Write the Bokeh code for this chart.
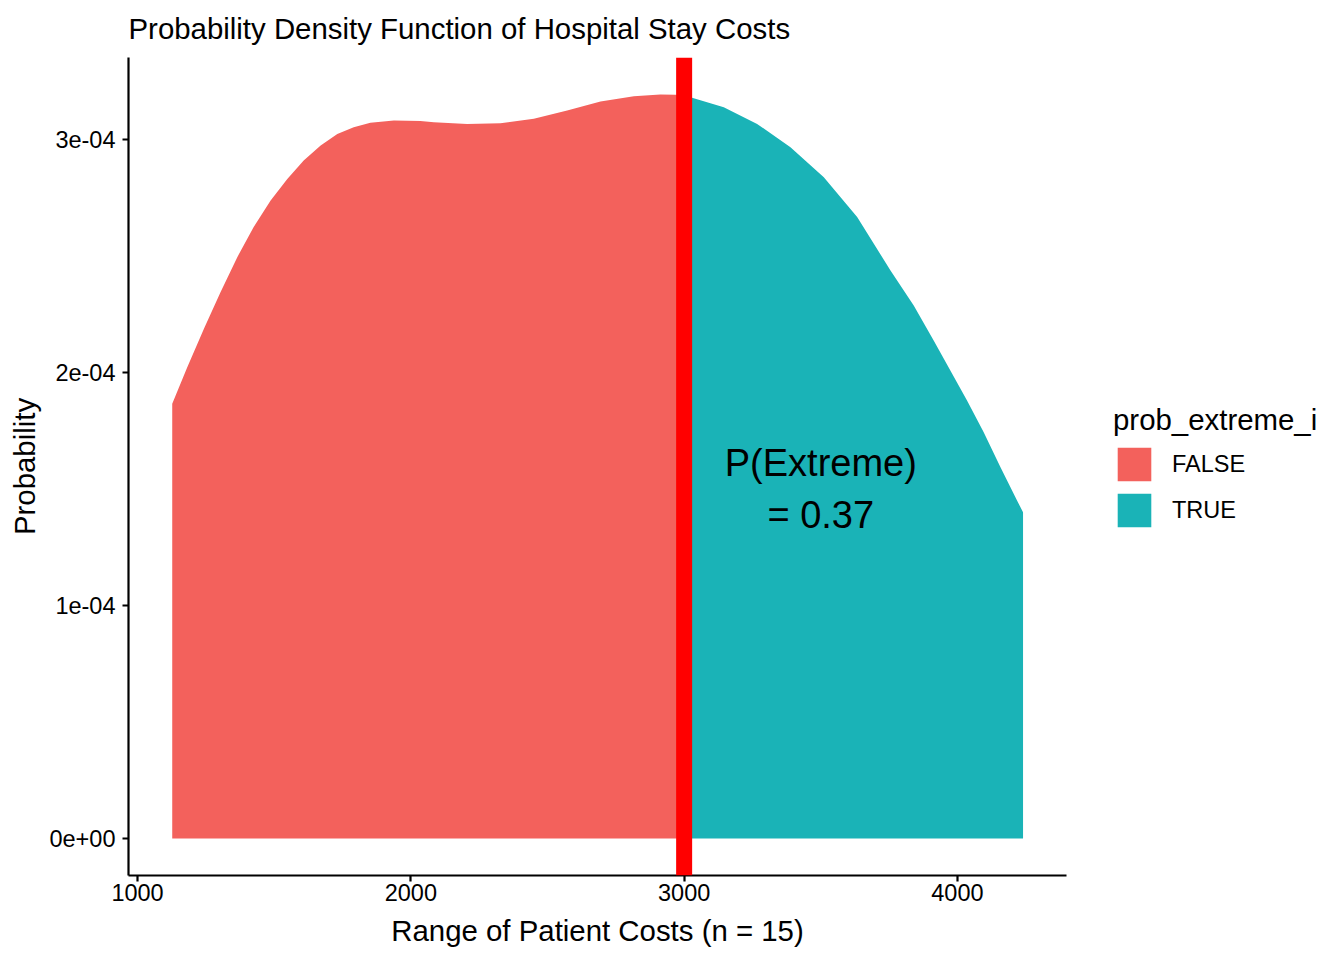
from bokeh.plotting import figure
from bokeh.layouts import row
from bokeh.models import Span, Legend, LegendItem, FixedTicker, Range1d, ColumnDataSource
from bokeh.embed import file_html
from bokeh.resources import INLINE
from bokeh.core.properties import value

# ---- data ----
cost = [1127, 1182, 1243, 1304, 1365, 1425, 1487, 1548, 1608, 1670, 1731, 1791,
        1852, 1938, 2035, 2084, 2206, 2328, 2450, 2572, 2694, 2816, 2913, 2968,
        3000, 3029, 3145, 3267, 3389, 3511, 3633, 3755, 3840, 3913, 3974, 4035,
        4096, 4157, 4218, 4240]
density = [1.866e-4, 2.023e-4, 2.188e-4, 2.345e-4, 2.495e-4, 2.624e-4, 2.738e-4,
           2.831e-4, 2.910e-4, 2.974e-4, 3.024e-4, 3.053e-4, 3.072e-4, 3.082e-4,
           3.079e-4, 3.074e-4, 3.067e-4, 3.070e-4, 3.089e-4, 3.124e-4, 3.163e-4,
           3.186e-4, 3.193e-4, 3.192e-4, 3.190e-4, 3.179e-4, 3.139e-4, 3.067e-4,
           2.967e-4, 2.838e-4, 2.667e-4, 2.438e-4, 2.288e-4, 2.137e-4, 2.009e-4,
           1.880e-4, 1.744e-4, 1.594e-4, 1.451e-4, 1.400e-4]
threshold = 3000
p_extreme = 0.37
annot_x = 3500
annot_y = 1.5e-4
groups = ["FALSE", "TRUE"]
group_colors = ["#F3615C", "#1AB3B7"]
x_ticks = [1000, 2000, 3000, 4000]
y_ticks = [0, 1e-4, 2e-4, 3e-4]
y_tick_labels = ["0e+00", "1e-04", "2e-04", "3e-04"]

FONT = "Liberation Sans"

p = figure(width=1076, height=952, output_backend="svg", toolbar_location=None,
           x_range=Range1d(967, 4399), y_range=Range1d(-1.59e-5, 3.352e-4),
           min_border_left=128, min_border_right=10, min_border_top=57,
           min_border_bottom=77)
p.background_fill_color = "white"
p.border_fill_color = "white"
p.outline_line_color = None
p.xgrid.visible = False
p.ygrid.visible = False

p.title.text = "Probability Density Function of Hospital Stay Costs"
p.title.text_font = FONT
p.title.text_font_size = "29.4px"
p.title.text_font_style = "normal"
p.title.text_color = "black"
p.title.align = "left"
p.title.vertical_align = "top"
p.title.standoff = 22

# split the density into the two groups
false_x = [c for c in cost if c <= threshold]
false_y = [d for c, d in zip(cost, density) if c <= threshold]
true_x = [c for c in cost if c >= threshold]
true_y = [d for c, d in zip(cost, density) if c >= threshold]

src_f = ColumnDataSource(dict(x=false_x, y1=[0] * len(false_x), y2=false_y))
src_t = ColumnDataSource(dict(x=true_x, y1=[0] * len(true_x), y2=true_y))
p.varea(x="x", y1="y1", y2="y2", source=src_f, fill_color=group_colors[0])
p.varea(x="x", y1="y1", y2="y2", source=src_t, fill_color=group_colors[1])

vline = Span(location=threshold, dimension="height", line_color="#FF0000", line_width=16)
p.add_layout(vline)

p.text(x=[annot_x], y=[annot_y], text=[f"P(Extreme)\n= {p_extreme}"],
       text_font=value(FONT), text_font_size="38px", text_align="center",
       text_baseline="middle", text_line_height=1.25, text_color="black")

# axes
p.xaxis.ticker = FixedTicker(ticks=x_ticks)
p.yaxis.ticker = FixedTicker(ticks=y_ticks)
p.yaxis.major_label_overrides = {t: l for t, l in zip(y_ticks, y_tick_labels)}
p.xaxis.axis_label = "Range of Patient Costs (n = 15)"
p.yaxis.axis_label = "Probability"
for ax in (p.xaxis[0], p.yaxis[0]):
    ax.axis_line_color = "black"
    ax.axis_line_width = 2.2
    ax.major_tick_line_color = "black"
    ax.major_tick_line_width = 2.2
    ax.major_tick_out = 6
    ax.major_tick_in = 0
    ax.minor_tick_line_color = None
    ax.major_label_text_font = FONT
    ax.major_label_text_font_size = "23.5px"
    ax.major_label_text_color = "black"
    ax.axis_label_text_font = FONT
    ax.axis_label_text_font_size = "29.4px"
    ax.axis_label_text_font_style = "normal"
    ax.axis_label_text_color = "black"
p.xaxis.major_label_standoff = 2
p.xaxis.axis_label_standoff = 10
p.yaxis.major_label_standoff = 7
p.yaxis.axis_label_standoff = 5

# ---- legend, in a narrow companion figure to the right ----
lg = figure(width=260, height=952, output_backend="svg", toolbar_location=None,
            x_axis_type=None, y_axis_type=None, x_range=Range1d(0, 1), y_range=Range1d(0, 1),
            min_border_left=0, min_border_right=0, min_border_top=0, min_border_bottom=0)
lg.outline_line_color = None
lg.xgrid.visible = False
lg.ygrid.visible = False
# key swatches only: their one area lies outside the visible range
key_src = dict(x=[5, 6], y1=[5, 5], y2=[6, 6])
k_f = lg.varea(x="x", y1="y1", y2="y2", source=ColumnDataSource(key_src), fill_color=group_colors[0])
k_t = lg.varea(x="x", y1="y1", y2="y2", source=ColumnDataSource(key_src), fill_color=group_colors[1])

legend = Legend(items=[LegendItem(label=groups[0], renderers=[k_f]),
                       LegendItem(label=groups[1], renderers=[k_t])],
                title="prob_extreme_i", location=(37, 344))
legend.title_text_font = FONT
legend.title_text_font_size = "29.4px"
legend.title_text_font_style = "normal"
legend.title_text_color = "black"
legend.title_standoff = 6
legend.label_text_font = FONT
legend.label_text_font_size = "23.5px"
legend.label_text_color = "black"
legend.glyph_width = 42
legend.glyph_height = 42
legend.label_standoff = 17
legend.spacing = 4
legend.padding = 0
legend.margin = 0
legend.border_line_color = None
legend.background_fill_alpha = 0
lg.add_layout(legend, "center")

layout = row(p, lg)
open("out.html", "w").write(file_html(layout, INLINE))
